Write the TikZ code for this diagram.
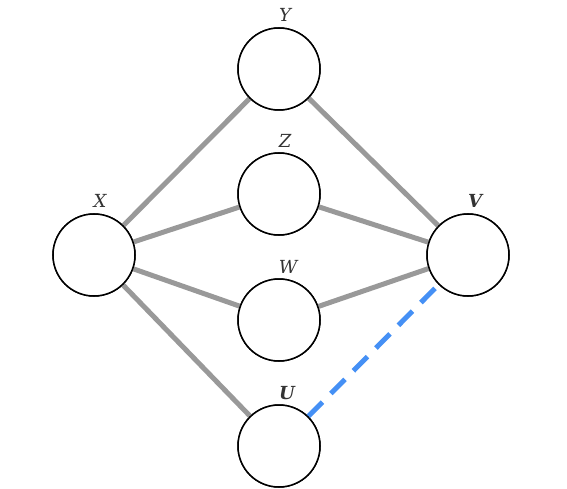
\documentclass[tikz,border=0pt]{standalone}
\usepackage{fontspec}
\setmainfont{DejaVu Serif}
\begin{document}
\begin{tikzpicture}[x=1pt,y=-1pt,
  vtx/.style={circle,draw=black,line width=1.5pt,fill=white,minimum size=82pt,inner sep=0pt},
  lbl/.style={text=black!80,font=\fontsize{18}{20}\selectfont\itshape,inner sep=0pt},
  blbl/.style={lbl,font=\fontsize{18}{20}\selectfont\bfseries\itshape},
  gedge/.style={draw=black!40,line width=5pt},
  bedge/.style={draw={rgb,255:red,69;green,144;blue,245},line width=5pt,dash pattern=on 20pt off 12pt}]
\useasboundingbox (0,0) rectangle (567,489);
\node[vtx] (X) at (94,255) {};
\node[vtx] (Y) at (279,69) {};
\node[vtx] (Z) at (279,194) {};
\node[vtx] (W) at (279,320) {};
\node[vtx] (U) at (279,446) {};
\node[vtx] (V) at (468,255) {};
\path[gedge] (X) -- (Y) (X) -- (Z) (X) -- (W) (X) -- (U)
  (Y) -- (V) (Z) -- (V) (W) -- (V);
\path[bedge] (U) -- (V);
\foreach \n in {X,Y,Z,W,U,V} \node[vtx] at (\n) {};
\node[lbl] (lX) at (100,201) {X};
\node[lbl] (lY) at (285,15) {Y};
\node[lbl] (lZ) at (285,141) {Z};
\node[lbl] (lW) at (288,267) {W};
\node[blbl] (lU) at (287,393) {U};
\node[blbl] (lV) at (475,201) {V};
\end{tikzpicture}
\end{document}
